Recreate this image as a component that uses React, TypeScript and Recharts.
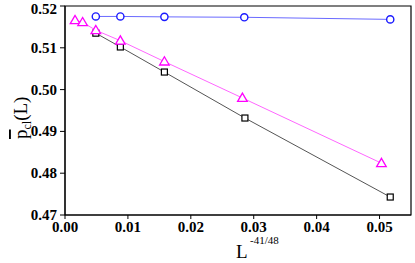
import { LineChart, Line, XAxis, YAxis, ReferenceArea, Customized } from "recharts";

const circleX = [0.0049, 0.0088, 0.0158, 0.0285, 0.0517];
const circleP = [0.5175, 0.5175, 0.5174, 0.5173, 0.5168];
const triangleX = [0.0016, 0.0028, 0.0049, 0.0088, 0.0158, 0.0282, 0.0503];
const triangleP = [0.5166, 0.5161, 0.5142, 0.5117, 0.5067, 0.498, 0.4824];
const squareX = [0.0049, 0.0088, 0.0158, 0.0286, 0.0517];
const squareP = [0.5135, 0.5102, 0.5042, 0.4932, 0.4743];

const xTicks = [0, 0.005, 0.01, 0.015, 0.02, 0.025, 0.03, 0.035, 0.04, 0.045, 0.05];
const yTicks = [0.47, 0.475, 0.48, 0.485, 0.49, 0.495, 0.5, 0.505, 0.51, 0.515, 0.52];

const toPoints = (xs: number[], ys: number[]) => xs.map((x, i) => ({ x, y: ys[i] }));

const circles = toPoints(circleX, circleP);
const triangles = toPoints(triangleX, triangleP);
const squares = toPoints(squareX, squareP);

const serif = "'Liberation Serif', 'Times New Roman', serif";
const isMajor = (v: number) => Math.abs(v * 100 - Math.round(v * 100)) < 1e-6;

const XTick = (props: any) => {
  const { x, y, payload } = props;
  if (!isMajor(payload.value)) return null;
  return (
    <text x={x} y={y + 11} textAnchor="middle" fontFamily={serif} fontWeight="bold" fontSize={15} fill="#000">
      {payload.value.toFixed(2)}
    </text>
  );
};

const YTick = (props: any) => {
  const { x, y, payload } = props;
  if (!isMajor(payload.value)) return null;
  return (
    <text x={x - 1} y={y + 5} textAnchor="end" fontFamily={serif} fontWeight="bold" fontSize={15} fill="#000">
      {payload.value.toFixed(2)}
    </text>
  );
};

const CircleDot = (p: any) => (
  <circle cx={p.cx} cy={p.cy} r={3.6} fill="#fff" stroke="#1a1aff" strokeWidth={1.4} />
);
const TriangleDot = (p: any) => (
  <polygon
    points={`${p.cx},${p.cy - 4.8} ${p.cx - 4.8},${p.cy + 3.4} ${p.cx + 4.8},${p.cy + 3.4}`}
    fill="#fff"
    stroke="#ff00ff"
    strokeWidth={1.3}
  />
);
const SquareDot = (p: any) => (
  <rect x={p.cx - 3} y={p.cy - 3} width={6} height={6} fill="#fff" stroke="#000" strokeWidth={1.2} />
);

const Titles = () => (
  <g fontFamily={serif} fill="#000">
    <text x={236} y={258} fontSize={19}>
      L
    </text>
    <text x={250} y={244} fontSize={11}>
      -41/48
    </text>
    <text transform="translate(27,139) rotate(-90)" fontSize={19}>
      <tspan style={{ textDecoration: "overline" }}>p</tspan>
      <tspan fontSize={12} dy={4}>
        cl
      </tspan>
      <tspan dy={-4}>(L)</tspan>
    </text>
  </g>
);

export default function App() {
  return (
    <div style={{ position: "absolute", left: 0, top: 0, background: "#fff" }}>
      <LineChart width={415} height={263} margin={{ top: 6, right: 4, left: 0, bottom: 0 }}>
        <XAxis
          type="number"
          dataKey="x"
          domain={[0, 0.055]}
          ticks={xTicks}
          tick={<XTick />}
          tickSize={4}
          height={48}
          stroke="#000"
          allowDataOverflow
        />
        <YAxis
          type="number"
          dataKey="y"
          domain={[0.47, 0.52]}
          ticks={yTicks}
          tick={<YTick />}
          tickSize={5}
          width={65}
          stroke="#000"
          allowDataOverflow
        />
        <ReferenceArea x1={0} x2={0.055} y1={0.47} y2={0.52} fill="none" stroke="#000" strokeWidth={1.2} />
        <Line
          data={squares}
          dataKey="y"
          stroke="#555"
          strokeWidth={1}
          dot={<SquareDot />}
          isAnimationActive={false}
        />
        <Line
          data={triangles}
          dataKey="y"
          stroke="#ff66ff"
          strokeWidth={1}
          dot={<TriangleDot />}
          isAnimationActive={false}
        />
        <Line
          data={circles}
          dataKey="y"
          stroke="#6a6aff"
          strokeWidth={1}
          dot={<CircleDot />}
          isAnimationActive={false}
        />
        <Customized component={<Titles />} />
      </LineChart>
    </div>
  );
}
